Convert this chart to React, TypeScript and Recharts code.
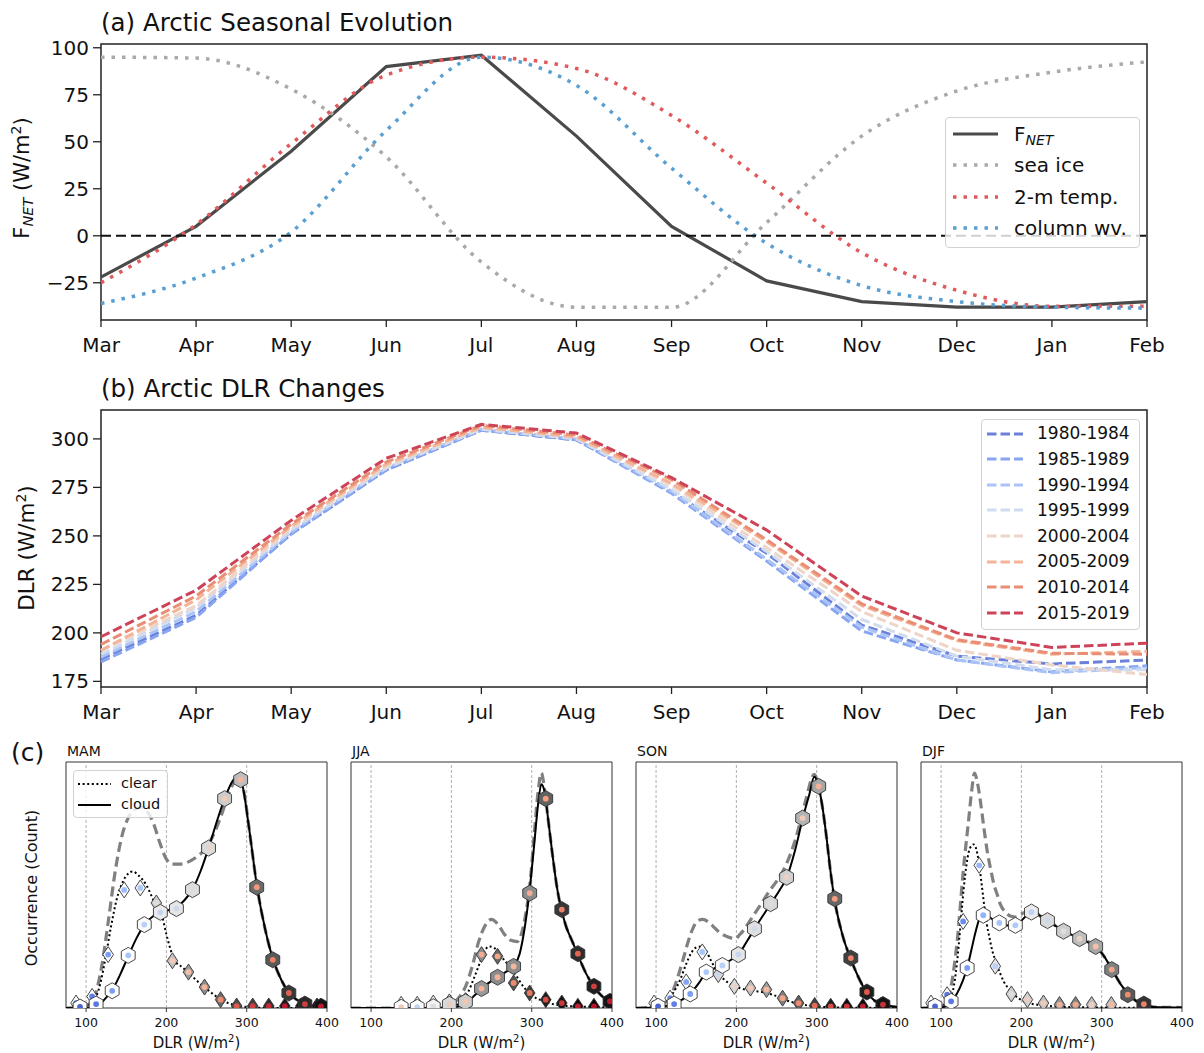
import React from "react";
import {
  LineChart,
  Line,
  XAxis,
  YAxis,
  ReferenceLine,
  ReferenceArea,
  ComposedChart,
  Scatter,
} from "recharts";

const FONT = "'DejaVu Sans', sans-serif";

// ---------- (a) seasonal evolution, Mar..Feb ----------
const months = ["Mar", "Apr", "May", "Jun", "Jul", "Aug", "Sep", "Oct", "Nov", "Dec", "Jan", "Feb"];
const fNet = [-22, 5, 45, 90, 96, 53, 5, -24, -35, -38, -38, -35];
const seaIce = [95, 94.5, 78, 42, -14, -38, -38, 7, 53, 77, 87, 92.5];
const temp2m = [-25, 6, 49, 85.5, 95, 89, 64, 28, -9, -29, -37.5, -37.5];
const columnWv = [-36, -22.5, 2, 56, 95, 80, 36, -4, -26.5, -35, -38, -38.5];
const fNetTicks = [-25, 0, 25, 50, 75, 100];

// ---------- (b) DLR per period ----------
const periods = ["1980-1984", "1985-1989", "1990-1994", "1995-1999", "2000-2004", "2005-2009", "2010-2014", "2015-2019"];
const dlr8084 = [186.5, 209, 251, 284, 304.5, 299.5, 273, 241, 204, 188, 184, 186];
const dlr8589 = [185, 208, 251, 284, 304.5, 299.5, 272, 237, 201, 186, 180, 183];
const dlr9094 = [187.5, 211, 252, 285, 305, 300, 273, 238, 203, 186, 179.5, 182];
const dlr9599 = [189, 213, 253, 285, 305, 300, 274, 242, 207, 188, 181, 181];
const dlr0004 = [191, 214, 254, 286, 306, 301, 276, 244, 211, 191, 183.5, 178.5];
const dlr0509 = [191, 217, 255, 287, 306, 301, 277, 247, 214, 196, 189, 190.5];
const dlr1014 = [194, 219, 256, 288, 307, 302, 279, 248, 215, 196.5, 189.5, 189];
const dlr1519 = [198, 222, 258, 290, 307.5, 303, 280, 253, 219, 200, 192.5, 194.7];
const dlrTicks = [175, 200, 225, 250, 275, 300];
const periodSeries = [dlr8084, dlr8589, dlr9094, dlr9599, dlr0004, dlr0509, dlr1014, dlr1519];
const periodColors = ["#6b80da", "#87a5f0", "#aac4f8", "#d2dcef", "#efd4c8", "#f4b497", "#e98d75", "#cd4458"];

// ---------- (c) DLR distributions: [DLR, count] and marks [DLR, count, grey, heat] ----------
type Pair = [number, number];
type Mark = [number, number, number, number];

const mamClear: Pair[] = [[75, 0], [95, 0.2], [103, 1], [110, 3], [117, 9], [124, 20], [131, 33], [138, 44], [146, 51.5], [152, 54.5], [158, 55.5], [165, 54], [175, 50], [185, 43], [195, 37], [200, 30], [205, 24], [210, 19.5], [220, 16.5], [230, 13.5], [240, 10.5], [250, 7.8], [260, 5.2], [270, 3], [285, 1.2], [300, 0.4], [330, 0], [400, 0]];
const mamCloud: Pair[] = [[75, 0], [100, 0], [108, 0.3], [115, 1], [123, 3.5], [133, 7.5], [143, 14], [153, 21.4], [163, 28.5], [173, 34], [183, 37.2], [193, 39], [203, 39.8], [213, 41], [223, 44], [233, 48.5], [243, 56], [253, 65.5], [263, 76], [273, 85.5], [283, 92.5], [289, 94], [295, 90], [303, 73], [313, 49], [323, 32], [333, 19.6], [343, 11.5], [353, 6], [363, 3.2], [373, 1.6], [385, 0.7], [400, 0.3]];
const mamTotal: Pair[] = [[75, 0], [98, 0.5], [105, 2], [112, 6], [120, 18], [128, 36], [136, 55], [144, 69], [152, 77], [160, 80.5], [168, 81.5], [176, 80], [184, 75], [192, 67], [200, 60.5], [208, 58.5], [218, 58.5], [228, 59.5], [238, 61.5], [248, 64.5], [258, 70], [268, 78], [278, 87.5], [286, 93], [291, 94.5], [297, 87], [305, 68], [313, 49], [323, 32], [333, 19.6], [343, 11.5], [353, 6], [363, 3.2], [373, 1.6], [385, 0.7], [400, 0.3]];
const mamClearMarks: Mark[] = [[87.5, 2, 1, 0.08], [107.5, 4.7, 1, 0.12], [127.5, 21.7, 1, 0.2], [147.5, 48, 1, 0.3], [167.5, 48.8, 0.97, 0.34], [187.5, 42.7, 0.8, 0.5], [207.5, 19.2, 0.76, 0.6], [227.5, 14.6, 0.62, 0.64], [247.5, 8.5, 0.55, 0.67], [267.5, 3.4, 0.42, 0.78], [287.5, 0.8, 0.3, 0.88], [307.5, 0.8, 0.25, 0.92], [327.5, 0.8, 0.18, 0.95], [347.5, 0.8, 0.1, 0.97], [367.5, 0.8, 0.05, 0.98], [387.5, 0.8, 0.02, 1]];
const mamCloudMarks: Mark[] = [[92.5, 0.4, 1, 0.05], [112.5, 1.6, 1, 0.1], [132.5, 7, 1, 0.2], [152.5, 21.4, 1, 0.33], [172.5, 33.9, 0.98, 0.38], [192.5, 38.9, 0.92, 0.42], [212.5, 40.4, 0.9, 0.45], [232.5, 48.1, 0.87, 0.5], [252.5, 65, 0.86, 0.55], [272.5, 85.1, 0.8, 0.6], [292.5, 92.8, 0.74, 0.66], [312.5, 49.1, 0.42, 0.75], [332.5, 19.6, 0.35, 0.8], [352.5, 6.1, 0.22, 0.87], [372.5, 1.6, 0.16, 0.92], [392.5, 0.7, 0.08, 0.97]];

const jjaClear: Pair[] = [[75, 0], [180, 0], [200, 0.5], [210, 2], [220, 6], [228, 12], [235, 18], [241, 23], [247, 25], [253, 24.5], [262, 21], [272, 17], [280, 13.5], [290, 8.5], [300, 5.2], [315, 2.7], [335, 1.1], [357, 0.6], [400, 0.3]];
const jjaCloud: Pair[] = [[75, 0], [195, 0], [210, 0.8], [222, 3], [230, 5.5], [237, 7.9], [247, 10.3], [257, 12.5], [267, 14.5], [277.5, 17], [285, 22], [291, 32], [297, 46.7], [303, 66], [308, 83], [312, 91], [316, 88], [320, 78], [326, 62], [332, 48], [337, 40], [343, 33], [350, 27.5], [357, 22], [367, 14.5], [377, 8.8], [387, 5], [397, 2.7], [400, 2.3]];
const jjaTotal: Pair[] = [[75, 0], [190, 0], [200, 1.5], [210, 4.5], [218, 9], [226, 17], [234, 27], [242, 33.5], [250, 36], [258, 34], [266, 30], [274, 27.5], [282, 27], [288, 31], [293, 39], [298, 51], [303, 70], [308, 88], [312, 95.5], [316, 89], [320, 78], [326, 62], [332, 48], [337, 40], [343, 33], [350, 27.5], [357, 22], [367, 14.5], [377, 8.8], [387, 5], [397, 2.7], [400, 2.3]];
const jjaClearMarks: Mark[] = [[137.5, 1.5, 1, 0.7], [157.5, 1.5, 1, 0.35], [177.5, 2, 0.95, 0.5], [197.5, 2.5, 0.85, 0.58], [217.5, 3, 0.8, 0.62], [237.5, 21.7, 0.55, 0.7], [257.5, 21, 0.4, 0.72], [277.5, 10.2, 0.33, 0.78], [297.5, 6.1, 0.25, 0.82], [317.5, 3.4, 0.12, 0.9], [337.5, 2, 0.08, 0.93], [357.5, 0.7, 0.05, 0.96], [377.5, 0.7, 0.03, 0.98], [397.5, 1.4, 0.02, 1]];
const jjaCloudMarks: Mark[] = [[137.5, 0.3, 1, 0.6], [157.5, 0.3, 1, 0.4], [177.5, 0.5, 0.95, 0.5], [197.5, 1.5, 0.85, 0.58], [217.5, 2.5, 0.8, 0.62], [237.5, 7.9, 0.6, 0.68], [257.5, 12.5, 0.55, 0.68], [277.5, 16.9, 0.55, 0.66], [297.5, 46.7, 0.55, 0.7], [317.5, 85.1, 0.38, 0.74], [337.5, 40, 0.22, 0.8], [357.5, 22.1, 0.18, 0.86], [377.5, 8.8, 0.12, 0.92], [397.5, 2.7, 0.08, 0.97]];

const sonClear: Pair[] = [[75, 0], [95, 0.3], [105, 1.2], [115, 3.5], [123, 7], [130, 11.5], [137, 17.5], [144, 22.5], [150, 24.6], [156, 25], [162, 23.5], [168, 19.5], [176, 15], [185, 11.5], [195, 9.3], [205, 8], [220, 7], [235, 6.3], [245, 5.4], [255, 4.2], [266, 2.7], [282, 1.4], [300, 0.6], [330, 0.2], [400, 0]];
const sonCloud: Pair[] = [[75, 0], [100, 0.2], [112, 0.8], [123, 1.8], [133, 3.5], [143, 6], [153, 10], [162, 14.3], [172, 16], [183, 17.5], [193, 19.5], [203, 22], [213, 27], [223, 32.4], [233, 37.5], [243, 42.5], [253, 47.5], [263, 53.3], [273, 64], [283, 77.5], [291, 87], [297, 94], [302, 90.5], [307, 82], [312, 70], [317, 56], [322, 44.5], [332, 29.8], [342, 20.3], [352, 12.5], [362, 6.5], [372, 3], [383, 1.4], [400, 0.4]];
const sonTotal: Pair[] = [[75, 0], [100, 0.4], [108, 1.4], [115, 3.5], [121, 7], [127, 12.5], [133, 19], [140, 27], [146, 32.5], [152, 35.5], [158, 36], [165, 35], [171, 33.2], [178, 31], [185, 29.5], [193, 28.5], [199, 28.2], [204, 29.8], [210, 32], [216, 35], [224, 39], [233, 43.4], [241, 47.5], [250, 51.5], [262, 58.3], [274, 69], [286, 84], [297, 95], [302, 90.5], [307, 82], [312, 70], [317, 56], [322, 44.5], [332, 29.8], [342, 20.3], [352, 12.5], [362, 6.5], [372, 3], [383, 1.4], [400, 0.4]];
const sonClearMarks: Mark[] = [[97.5, 2, 1, 0.08], [117.5, 4, 1, 0.15], [137.5, 10.6, 1, 0.22], [157.5, 22.8, 0.98, 0.33], [177.5, 13.6, 0.85, 0.44], [197.5, 8.8, 0.85, 0.55], [217.5, 8.1, 0.75, 0.6], [237.5, 7.5, 0.62, 0.66], [257.5, 4, 0.5, 0.72], [277.5, 2, 0.38, 0.78], [297.5, 1, 0.25, 0.85], [317.5, 0.7, 0.1, 0.9], [337.5, 0.7, 0.05, 0.93], [357.5, 0.7, 0.03, 0.96], [380, 1, 0.02, 0.98]];
const sonCloudMarks: Mark[] = [[102.5, 0.7, 1, 0.05], [122.5, 1.6, 1, 0.12], [142.5, 5.7, 1, 0.2], [162.5, 14.6, 1, 0.34], [182.5, 17.3, 0.98, 0.38], [202.5, 21.7, 0.9, 0.43], [222.5, 32.2, 0.88, 0.46], [242.5, 42.4, 0.85, 0.5], [262.5, 53.1, 0.82, 0.56], [282.5, 77.2, 0.7, 0.6], [302.5, 90.1, 0.65, 0.68], [322.5, 44.4, 0.4, 0.74], [342.5, 20.3, 0.25, 0.8], [362.5, 6.5, 0.12, 0.88], [382.5, 1.4, 0.08, 0.94]];

const djfClear: Pair[] = [[75, 0], [95, 0.3], [102, 1], [111, 4], [116, 9], [120, 19], [124, 33], [128, 48], [132, 59], [136, 65], [140.8, 66.5], [145, 63], [148, 57], [151, 49], [154, 41], [157, 34], [160, 29], [164, 23], [168, 19], [173, 14.5], [178, 10.8], [185, 7.5], [191, 5.4], [203, 2.7], [220, 1.3], [240, 0.7], [270, 0.3], [400, 0]];
const djfCloud: Pair[] = [[75, 0], [95, 0.1], [105, 0.6], [113, 2.7], [120, 6], [127, 11], [132.5, 16.3], [138, 24], [143, 31], [148, 36.5], [152.5, 38.5], [158, 37.5], [165, 35.8], [173, 34.6], [183, 33.5], [193, 33.6], [203, 36.5], [213, 39.3], [223, 37.5], [233, 35.5], [243, 33.3], [253, 31.2], [263, 29.7], [273, 28.2], [283, 26.7], [293, 25], [303, 21], [313, 15.6], [324, 9.5], [334, 5.4], [344, 2.6], [353, 1.2], [365, 0.4], [400, 0.2]];
const djfTotal: Pair[] = [[75, 0], [98, 0.5], [105, 1.4], [112, 8], [120, 27], [128, 57], [134.5, 77], [138, 88], [141.7, 95.5], [145, 92], [149, 84], [153, 74], [157.5, 63.7], [162, 56], [166, 50], [170, 46], [174, 42], [180, 39], [187, 37.3], [193, 37], [199, 38], [205, 39], [212, 39.5], [218, 39], [223, 37.5], [233, 35.5], [253, 31.2], [273, 28.2], [293, 25], [303, 21], [313, 15.6], [324, 9.5], [334, 5.4], [344, 2.6], [353, 1.2], [365, 0.4], [400, 0.2]];
const djfClearMarks: Mark[] = [[87.5, 2, 1, 0.05], [107.5, 5.4, 1, 0.1], [127.5, 35.2, 1, 0.15], [147.5, 58, 1, 0.28], [167.5, 17, 0.9, 0.38], [187.5, 5.7, 0.82, 0.5], [207.5, 3.4, 0.82, 0.58], [227.5, 2, 0.76, 0.6], [247.5, 1.4, 0.58, 0.68], [267.5, 1.4, 0.52, 0.72], [287.5, 1.4, 0.75, 0.58], [312, 1.4, 0.75, 0.66]];
const djfCloudMarks: Mark[] = [[92.5, 0.7, 1, 0.05], [112.5, 2.7, 1, 0.1], [132.5, 16.3, 1, 0.2], [152.5, 37.7, 1, 0.26], [172.5, 34.6, 1, 0.32], [192.5, 33.6, 0.98, 0.34], [212.5, 39, 0.92, 0.38], [232.5, 35.5, 0.86, 0.44], [252.5, 31.2, 0.8, 0.5], [272.5, 28.2, 0.74, 0.56], [292.5, 25, 0.65, 0.64], [312.5, 15.6, 0.5, 0.72], [332.5, 5.4, 0.35, 0.78], [352.5, 1.6, 0.2, 0.8]];

const dlrBinTicks = [100, 200, 300, 400];

// coolwarm colormap stops
const coolwarm = [[59, 76, 192], [98, 130, 234], [141, 176, 254], [184, 208, 249], [221, 221, 221], [245, 196, 173], [244, 154, 123], [222, 96, 77], [180, 4, 38]];
function heatColor(t: number) {
  const s = Math.max(0, Math.min(1, t)) * (coolwarm.length - 1);
  const i = Math.min(Math.floor(s), coolwarm.length - 2);
  const f = s - i;
  const c = coolwarm[i].map((v, k) => Math.round(v + (coolwarm[i + 1][k] - v) * f));
  return `rgb(${c[0]},${c[1]},${c[2]})`;
}
function greyColor(g: number) {
  const v = Math.round(g * 255);
  return `rgb(${v},${v},${v})`;
}

const seasonal = months.map((m, i) => ({
  i,
  fNet: fNet[i],
  seaIce: seaIce[i],
  temp2m: temp2m[i],
  columnWv: columnWv[i],
}));

const dlrRows = months.map((m, i) => {
  const row: Record<string, number> = { i };
  periods.forEach((p, k) => (row[p] = periodSeries[k][i]));
  return row;
});

const monthTicks = months.map((_, i) => i);
const minus = (v: number) => (v < 0 ? `\u2212${-v}` : `${v}`);

const bigTick = { fontSize: 20, fill: "#111", fontFamily: FONT };
const bigTickLine = { stroke: "#222", strokeWidth: 1.3 };

function Hexagon(props: any) {
  const { cx, cy, payload } = props;
  if (cx == null || cy == null) return null;
  const r = 8;
  const pts = [0, 1, 2, 3, 4, 5]
    .map((k) => {
      const a = (Math.PI / 180) * (60 * k - 90);
      return `${cx + r * Math.cos(a)},${cy + r * Math.sin(a)}`;
    })
    .join(" ");
  return (
    <g>
      <polygon points={pts} fill={greyColor(payload.grey)} stroke="#333" strokeWidth={0.9} />
      <circle cx={cx} cy={cy} r={2.9} fill={heatColor(payload.heat)} />
    </g>
  );
}

function Diamond(props: any) {
  const { cx, cy, payload } = props;
  if (cx == null || cy == null) return null;
  const pts = `${cx},${cy - 8} ${cx + 5.3},${cy} ${cx},${cy + 8} ${cx - 5.3},${cy}`;
  return (
    <g>
      <polygon points={pts} fill={greyColor(payload.grey)} stroke="#333" strokeWidth={0.9} />
      <circle cx={cx} cy={cy} r={2.9} fill={heatColor(payload.heat)} />
    </g>
  );
}

type Row = { label: React.ReactNode; color: string; width: number; dash?: string };

function LegendBox(p: {
  left: number; top: number; width: number; height: number; rows: Row[];
  rowTop: number; rowStep: number; sampleX: number; sampleW: number; textX: number; fontSize: number;
}) {
  return (
    <div
      style={{
        position: "absolute", left: p.left, top: p.top, width: p.width, height: p.height,
        background: "rgba(255,255,255,0.8)", border: "1px solid #d2d2d2", borderRadius: 4,
        boxSizing: "border-box", fontFamily: FONT, fontSize: p.fontSize, color: "#111",
      }}
    >
      {p.rows.map((r, k) => {
        const cy = p.rowTop + k * p.rowStep;
        return (
          <React.Fragment key={k}>
            <svg style={{ position: "absolute", left: p.sampleX, top: cy - 5 }} width={p.sampleW} height={10}>
              <line x1={0} x2={p.sampleW} y1={5} y2={5} stroke={r.color} strokeWidth={r.width} strokeDasharray={r.dash} />
            </svg>
            <div style={{ position: "absolute", left: p.textX, top: cy - p.fontSize * 0.6, lineHeight: `${p.fontSize * 1.2}px`, whiteSpace: "nowrap" }}>
              {r.label}
            </div>
          </React.Fragment>
        );
      })}
    </div>
  );
}

function PanelA() {
  return (
    <div style={{ position: "absolute", left: 0, top: 0 }}>
      <LineChart width={1204} height={360} data={seasonal} margin={{ top: 44, right: 57, bottom: 2, left: 41 }}>
        <XAxis dataKey="i" type="number" domain={[0, 11]} ticks={monthTicks} tickFormatter={(v) => months[v]}
          height={38} tickSize={7} tickMargin={11} tick={bigTick} axisLine={false} tickLine={bigTickLine} />
        <YAxis type="number" domain={[-44.8, 102]} ticks={fNetTicks} tickFormatter={minus} width={60}
          tickSize={8} tickMargin={4} tick={bigTick} axisLine={false} tickLine={bigTickLine} />
        <ReferenceArea x1={0} x2={11} y1={-44.8} y2={102} fill="none" stroke="#222" strokeWidth={1.5} ifOverflow="visible" />
        <Line dataKey="fNet" type="linear" stroke="#4a4a4a" strokeWidth={3.2} dot={false} activeDot={false} isAnimationActive={false} />
        <Line dataKey="seaIce" type="monotone" stroke="#a9a9a9" strokeWidth={3.5} strokeDasharray="3.5 7" dot={false} activeDot={false} isAnimationActive={false} />
        <Line dataKey="temp2m" type="monotone" stroke="#e05a5c" strokeWidth={3.5} strokeDasharray="3.5 7" dot={false} activeDot={false} isAnimationActive={false} />
        <Line dataKey="columnWv" type="monotone" stroke="#5a9fd2" strokeWidth={3.5} strokeDasharray="3.5 7" dot={false} activeDot={false} isAnimationActive={false} />
        <ReferenceLine y={0} stroke="#111" strokeWidth={2.2} strokeDasharray="10 5" />
      </LineChart>
      <LegendBox
        left={945} top={117} width={195} height={131} rowTop={16} rowStep={31.3} sampleX={7} sampleW={45} textX={68} fontSize={20}
        rows={[
          { label: <span>F<span style={{ fontStyle: "italic", fontSize: "0.7em", verticalAlign: "-0.3em" }}>NET</span></span>, color: "#4a4a4a", width: 3.2 },
          { label: "sea ice", color: "#a9a9a9", width: 3.5, dash: "3.5 7" },
          { label: "2-m temp.", color: "#e05a5c", width: 3.5, dash: "3.5 7" },
          { label: "column wv.", color: "#5a9fd2", width: 3.5, dash: "3.5 7" },
        ]}
      />
    </div>
  );
}

function PanelB() {
  return (
    <div style={{ position: "absolute", left: 0, top: 380 }}>
      <LineChart width={1204} height={350} data={dlrRows} margin={{ top: 30, right: 57, bottom: 3, left: 41 }}>
        <XAxis dataKey="i" type="number" domain={[0, 11]} ticks={monthTicks} tickFormatter={(v) => months[v]}
          height={40} tickSize={7} tickMargin={11} tick={bigTick} axisLine={false} tickLine={bigTickLine} />
        <YAxis type="number" domain={[172.1, 314.9]} ticks={dlrTicks} width={60} allowDataOverflow
          tickSize={8} tickMargin={4} tick={bigTick} axisLine={false} tickLine={bigTickLine} />
        <ReferenceArea x1={0} x2={11} y1={172.1} y2={314.9} fill="none" stroke="#222" strokeWidth={1.5} ifOverflow="visible" />
        {periods.map((p, k) => (
          <Line key={p} dataKey={p} type="linear" stroke={periodColors[k]} strokeWidth={3} strokeDasharray="9.5 4"
            dot={false} activeDot={false} isAnimationActive={false} />
        ))}
      </LineChart>
      <LegendBox
        left={981} top={39} width={159} height={211} rowTop={13.5} rowStep={25.6} sampleX={5} sampleW={36} textX={55} fontSize={17}
        rows={periods.map((p, k) => ({ label: p, color: periodColors[k], width: 3, dash: "9.5 4" }))}
      />
    </div>
  );
}

function Season(p: { left: number; clear: Pair[]; cloud: Pair[]; total: Pair[]; clearMarks: Mark[]; cloudMarks: Mark[] }) {
  const pts = (a: Pair[]) => a.map(([x, y]) => ({ x, y }));
  const marks = (a: Mark[]) => a.map(([x, y, grey, heat]) => ({ x, y, grey, heat }));
  return (
    <div style={{ position: "absolute", left: p.left - 8, top: 752 }}>
      <ComposedChart width={291} height={301} margin={{ top: 10, right: 22, left: 8, bottom: 0 }}>
        <XAxis type="number" dataKey="x" domain={[75, 400]} ticks={dlrBinTicks} allowDataOverflow height={45}
          tickSize={4} tickMargin={6} tick={{ fontSize: 12.5, fill: "#111", fontFamily: FONT }} axisLine={false}
          tickLine={{ stroke: "#222", strokeWidth: 0.9 }} />
        <YAxis type="number" dataKey="y" domain={[0, 100]} allowDataOverflow hide />
        {[100, 200, 300].map((v) => (
          <ReferenceLine key={v} x={v} stroke="#9a9a9a" strokeWidth={0.8} strokeDasharray="3 2" />
        ))}
        <ReferenceArea x1={75} x2={400} y1={0} y2={100} fill="none" stroke="#333" strokeWidth={1} ifOverflow="visible" />
        <Line data={pts(p.total)} dataKey="y" type="monotone" stroke="#808080" strokeWidth={3.2} strokeDasharray="10 5"
          dot={false} activeDot={false} isAnimationActive={false} />
        <Line data={pts(p.cloud)} dataKey="y" type="monotone" stroke="#000" strokeWidth={2}
          dot={false} activeDot={false} isAnimationActive={false} />
        <Line data={pts(p.clear)} dataKey="y" type="monotone" stroke="#000" strokeWidth={2} strokeDasharray="2 2.6"
          dot={false} activeDot={false} isAnimationActive={false} />
        <Scatter data={marks(p.clearMarks)} dataKey="y" shape={Diamond} isAnimationActive={false} />
        <Scatter data={marks(p.cloudMarks)} dataKey="y" shape={Hexagon} isAnimationActive={false} />
      </ComposedChart>
    </div>
  );
}

const seasonLefts = [66, 351, 636, 921];
const seasonNames = ["MAM", "JJA", "SON", "DJF"];

function Texts() {
  return (
    <svg width={1204} height={1053} style={{ position: "absolute", left: 0, top: 0, pointerEvents: "none" }}
      fontFamily={FONT} fill="#111">
      <text x={101} y={31} fontSize={24.5}>(a) Arctic Seasonal Evolution</text>
      <text transform="translate(29,178) rotate(-90)" textAnchor="middle" fontSize={21}>
        F<tspan fontSize={14.5} fontStyle="italic" dy={4}>NET</tspan>
        <tspan dy={-4}> (W/m</tspan>
        <tspan fontSize={14} dy={-8}>2</tspan>
        <tspan dy={8}>)</tspan>
      </text>
      <text x={101} y={397} fontSize={24.5}>(b) Arctic DLR Changes</text>
      <text transform="translate(34,548) rotate(-90)" textAnchor="middle" fontSize={21.5}>
        DLR (W/m<tspan fontSize={14} dy={-8}>2</tspan>
        <tspan dy={8}>)</tspan>
      </text>
      <text x={11} y={761} fontSize={25}>(c)</text>
      <text transform="translate(37,888) rotate(-90)" textAnchor="middle" fontSize={16}>Occurrence (Count)</text>
      {seasonLefts.map((l, k) => (
        <g key={k}>
          <text x={l + 1} y={756} fontSize={14}>{seasonNames[k]}</text>
          <text x={l + 130.5} y={1048} fontSize={15} textAnchor="middle">
            DLR (W/m<tspan fontSize={10} dy={-6}>2</tspan>
            <tspan dy={6}>)</tspan>
          </text>
        </g>
      ))}
    </svg>
  );
}

export default function App() {
  return (
    <div style={{ position: "absolute", left: 0, top: 0, width: 1204, height: 1053, background: "#fff", fontFamily: FONT }}>
      <PanelA />
      <PanelB />
      <Season left={seasonLefts[0]} clear={mamClear} cloud={mamCloud} total={mamTotal} clearMarks={mamClearMarks} cloudMarks={mamCloudMarks} />
      <Season left={seasonLefts[1]} clear={jjaClear} cloud={jjaCloud} total={jjaTotal} clearMarks={jjaClearMarks} cloudMarks={jjaCloudMarks} />
      <Season left={seasonLefts[2]} clear={sonClear} cloud={sonCloud} total={sonTotal} clearMarks={sonClearMarks} cloudMarks={sonCloudMarks} />
      <Season left={seasonLefts[3]} clear={djfClear} cloud={djfCloud} total={djfTotal} clearMarks={djfClearMarks} cloudMarks={djfCloudMarks} />
      <LegendBox
        left={73} top={770} width={95} height={48} rowTop={12.5} rowStep={21.5} sampleX={4} sampleW={33} textX={47} fontSize={14.5}
        rows={[
          { label: "clear", color: "#000", width: 2, dash: "2 2.6" },
          { label: "cloud", color: "#000", width: 2 },
        ]}
      />
      <Texts />
    </div>
  );
}
